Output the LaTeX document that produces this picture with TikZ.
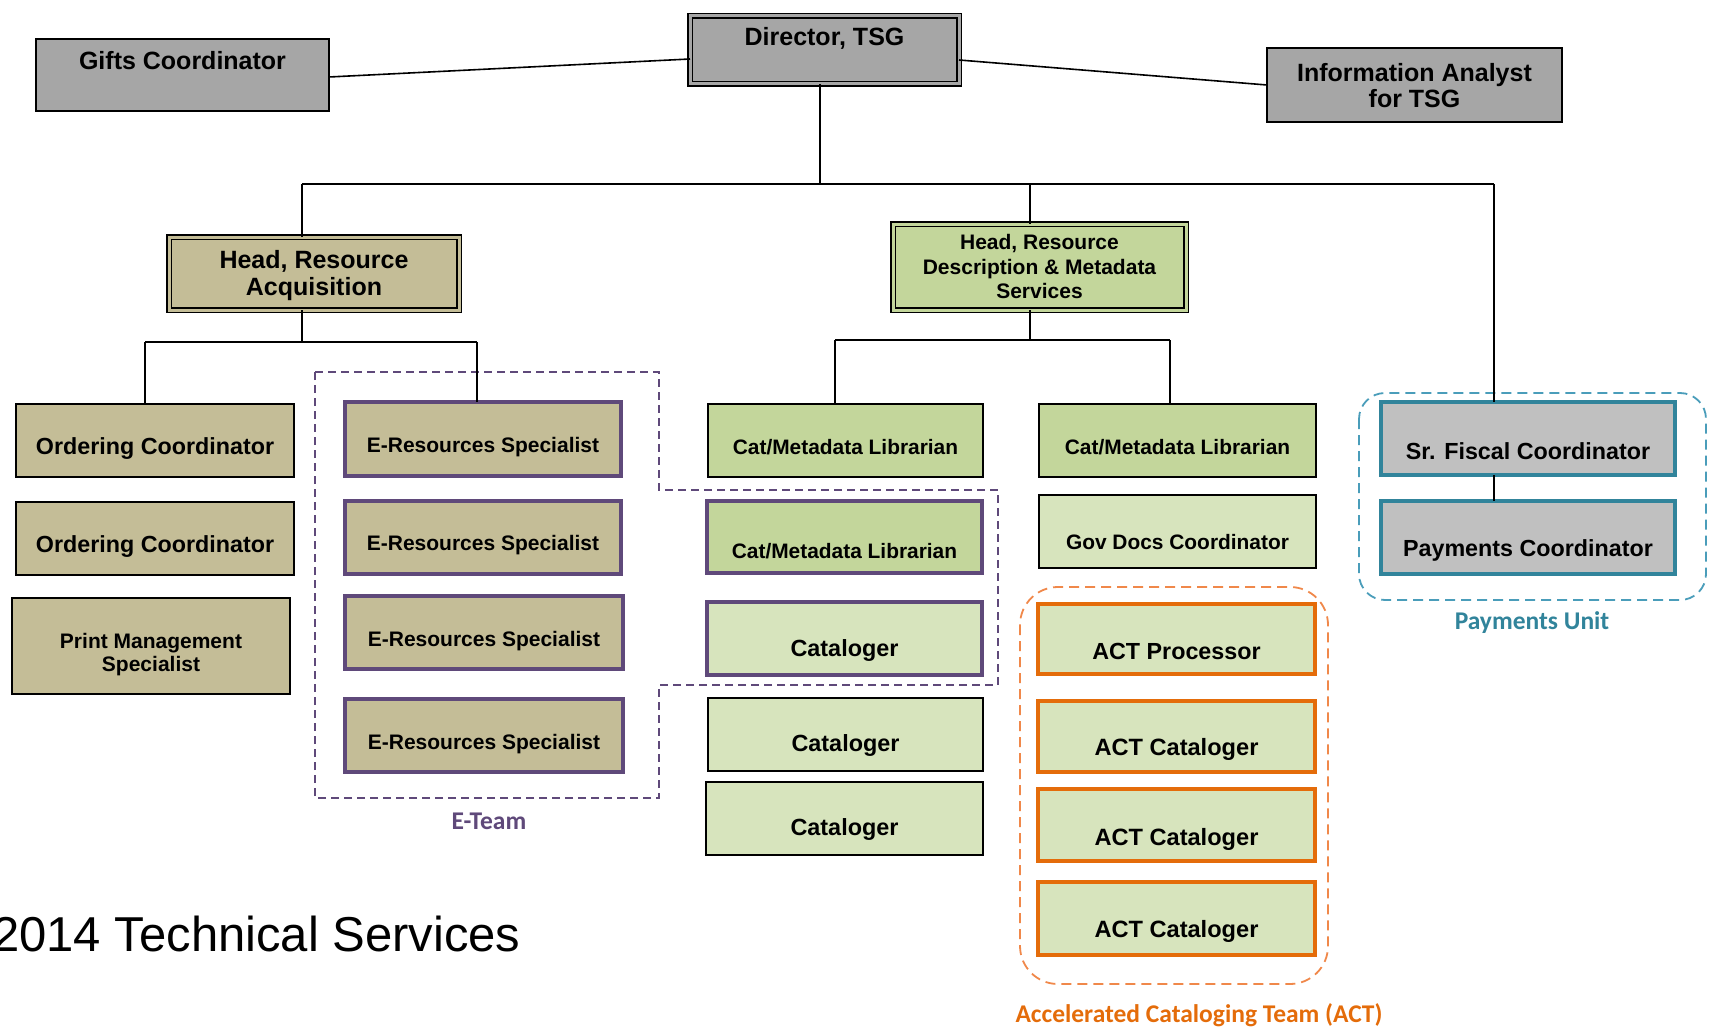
\documentclass[tikz,border=0pt]{standalone}
\usepackage{fontspec}
\setmainfont{Liberation Sans}
\newfontfamily\lblfont{Carlito}
\definecolor{cgray}{HTML}{A6A6A6}
\definecolor{clgray}{HTML}{C0C0C0}
\definecolor{ctan}{HTML}{C4BD97}
\definecolor{cgreen}{HTML}{C3D69B}
\definecolor{clgreen}{HTML}{D7E4BD}
\definecolor{cpurple}{HTML}{5F497A}
\definecolor{corange}{HTML}{E46C0A}
\definecolor{corangel}{HTML}{F0884A}
\definecolor{cteal}{HTML}{31849B}
\definecolor{ctealL}{HTML}{4A9DBA}
\tikzset{
  basebox/.style={rectangle, inner sep=0pt, outer sep=0pt},
  plainbox/.style={basebox, draw=black, line width=1.6pt, fill=#1},
  dblbox/.style={basebox, draw=black, line width=1.3pt, double=#1, double distance=3pt, fill=#1},
  purpbox/.style={basebox, draw=cpurple, line width=3.5pt, fill=#1},
  orngbox/.style={basebox, draw=corange, line width=3.5pt, fill=clgreen},
  tealbox/.style={basebox, draw=cteal, line width=3.5pt, fill=clgray},
  txt/.style 2 args={inner sep=0pt, align=center, font=\bfseries\fontsize{#1}{#2}\selectfont},
  grplbl/.style={inner sep=0pt, font=\lblfont\bfseries\fontsize{25.5}{26}\selectfont},
  conn/.style={draw=black, line width=1.6pt},
}
\newcommand\orgbox[9]{%
  \node[#6, minimum width={#4-#2}, minimum height={#5-#3}] (#1) at ({(#2+#4)/2},{(#3+#5)/2}) {};
  \node[txt=#8] (#1-t) at ({(#2+#4)/2},#7) {#9};}
\begin{document}
\begin{tikzpicture}[x=1pt,y=-1pt]
\useasboundingbox (0,0) rectangle (1710,1027);

% group outlines
\draw[cpurple, line width=1.6pt, dash pattern=on 8pt off 5pt]
  (315,372) -- (659,372) -- (659,490) -- (998,490) -- (998,685) -- (659,685) -- (659,798) -- (315,798) -- cycle;
\draw[corangel, line width=1.8pt, dash pattern=on 10pt off 6pt, rounded corners=38pt]
  (1020,587) rectangle (1328,984);
\draw[ctealL, line width=1.8pt, dash pattern=on 10pt off 6pt, rounded corners=26pt]
  (1359,393) rectangle (1706,600);

% top level
\orgbox{gifts}{36}{39}{329}{111}{plainbox=cgray}{61}{{25}{27}}{Gifts Coordinator}
\orgbox{dir}{690}{16}{959}{84}{dblbox=cgray}{38}{{25}{27}}{Director, TSG}
\orgbox{info}{1267}{48}{1562}{122}{plainbox=cgray}{86}{{25}{26}}{Information Analyst\\for TSG}
\orgbox{hra}{169}{237}{459}{310}{dblbox=ctan}{275.5}{{25}{27}}{Head, Resource\\Acquisition}
\orgbox{hrd}{893}{224}{1186}{310}{dblbox=cgreen}{266.5}{{21}{24.5}}{Head, Resource\\Description \& Metadata\\Services}

% acquisition
\orgbox{oc1}{16}{404}{294}{477}{plainbox=ctan}{449}{{23.3}{25}}{Ordering Coordinator}
\orgbox{oc2}{16}{502}{294}{575}{plainbox=ctan}{547}{{23.3}{25}}{Ordering Coordinator}
\orgbox{pm}{12}{598}{290}{694}{plainbox=ctan}{654.5}{{21}{23}}{Print Management\\Specialist}
\orgbox{er1}{345}{402}{621}{476}{purpbox=ctan}{447}{{21}{23}}{E-Resources Specialist}
\orgbox{er2}{345}{501}{621}{574}{purpbox=ctan}{545}{{21}{23}}{E-Resources Specialist}
\orgbox{er3}{345}{596}{623}{669}{purpbox=ctan}{641}{{21}{23}}{E-Resources Specialist}
\orgbox{er4}{345}{699}{623}{772}{purpbox=ctan}{744}{{21}{23}}{E-Resources Specialist}

% description & metadata
\orgbox{cm1}{708}{404}{983}{477}{plainbox=cgreen}{447}{{20.9}{23}}{Cat/Metadata Librarian}
\orgbox{cm2}{1039}{404}{1316}{477}{plainbox=cgreen}{447}{{20.9}{23}}{Cat/Metadata Librarian}
\orgbox{cm3}{707}{501}{982}{573}{purpbox=cgreen}{551}{{20.9}{23}}{Cat/Metadata Librarian}
\orgbox{cat1}{707}{602}{982}{675}{purpbox=clgreen}{650}{{23.4}{25}}{Cataloger}
\orgbox{cat2}{708}{698}{983}{771}{plainbox=clgreen}{745}{{23.4}{25}}{Cataloger}
\orgbox{cat3}{706}{782}{983}{855}{plainbox=clgreen}{829}{{23.4}{25}}{Cataloger}
\orgbox{gov}{1039}{495}{1316}{568}{plainbox=clgreen}{542}{{20.9}{23}}{Gov Docs Coordinator}
\orgbox{actp}{1038}{604}{1315}{674}{orngbox}{651}{{23.3}{25}}{ACT Processor}
\orgbox{act1}{1038}{701}{1315}{772}{orngbox}{749}{{23.6}{25}}{ACT Cataloger}
\orgbox{act2}{1038}{789}{1315}{861}{orngbox}{839}{{23.6}{25}}{ACT Cataloger}
\orgbox{act3}{1038}{882}{1315}{955}{orngbox}{931}{{23.6}{25}}{ACT Cataloger}

% payments
\orgbox{sf}{1381}{402}{1675}{475}{tealbox}{451}{{23.3}{25}}{Sr. Fiscal Coordinator}
\orgbox{pc}{1381}{501}{1675}{574}{tealbox}{550}{{23.3}{25}}{Payments Coordinator}

% connectors
\draw[conn] ([yshift=-2pt]gifts.east) -- ([yshift=-9pt]dir.west);
\draw[conn] ([yshift=-10pt]dir.east) -- (info.west);
\coordinate (busL) at (302,184);
\coordinate (busM) at (1030,184);
\coordinate (busR) at (1494,184);
\draw[conn] ([xshift=-4.5pt]dir.south) -- ([xshift=-4.5pt]dir.south |- busL);
\draw[conn] (busL) -- (busR);
\draw[conn] (busL) -- (busL |- hra.north);
\draw[conn] (busM) -- (busM |- hrd.north);
\draw[conn] (busR) -- (busR |- sf.north);
\draw[conn] (busR |- sf.south) -- (busR |- pc.north);

\coordinate (ra) at (302,342);
\coordinate (raL) at (145,342);
\coordinate (raR) at (477,342);
\draw[conn] (ra |- hra.south) -- (ra);
\draw[conn] (raL) -- (raR);
\draw[conn] (raL) -- (raL |- oc1.north);
\draw[conn] (raR) -- (raR |- er1.north);

\coordinate (rd) at (1030,340);
\coordinate (rdL) at (835,340);
\coordinate (rdR) at (1170,340);
\draw[conn] (rd |- hrd.south) -- (rd);
\draw[conn] (rdL) -- (rdR);
\draw[conn] (rdL) -- (rdL |- cm1.north);
\draw[conn] (rdR) -- (rdR |- cm2.north);

% group labels
\node[grplbl, text=cpurple] (eteam) at (489,821) {E-Team};
\node[grplbl, text=cteal] (payunit) at (1532,623) {Payments Unit};
\node[grplbl, text=corange] (actlbl) at (1199,1015) {Accelerated Cataloging Team (ACT)};

% title
\node[anchor=base west, inner sep=0pt, font=\fontsize{49}{51}\selectfont] (title) at (-8,951) {2014 Technical Services};
\end{tikzpicture}
\end{document}
